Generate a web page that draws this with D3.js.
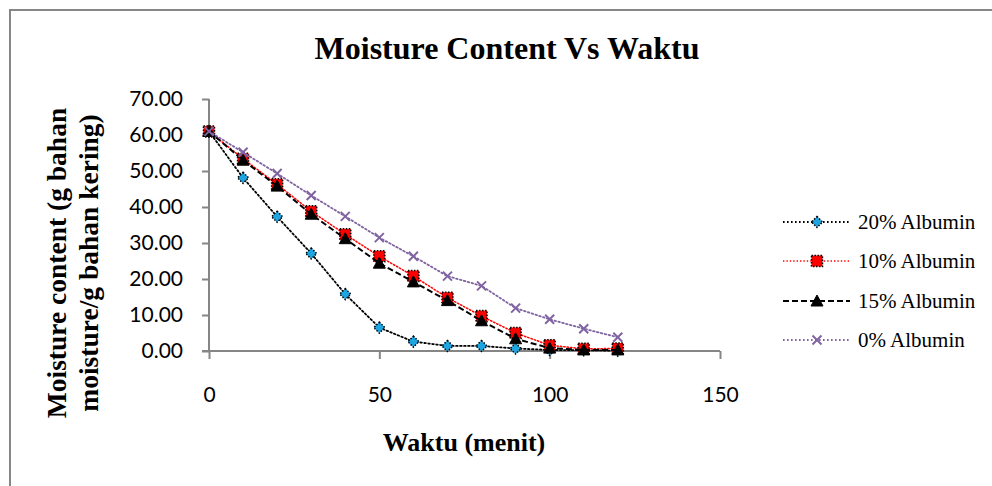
<!DOCTYPE html>
<html>
<head>
<meta charset="utf-8">
<script src="https://cdn.jsdelivr.net/npm/d3@7"></script>
<style>
  body { margin: 0; background: #fff; }
  svg { display: block; }
</style>
</head>
<body>
<div id="chart"></div>
<script>
"use strict";

// data
var waktu = [0, 10, 20, 30, 40, 50, 60, 70, 80, 90, 100, 110, 120];
var albumin20 = [61.0, 48.1, 37.3, 27.1, 15.8, 6.5, 2.6, 1.4, 1.4, 0.7, 0.3, 0.2, 0.1];
var albumin10 = [61.0, 53.4, 46.3, 38.8, 32.4, 26.3, 20.8, 14.8, 9.7, 5.0, 1.6, 0.6, 0.7];
var albumin15 = [61.0, 53.0, 45.8, 38.0, 31.2, 24.4, 19.2, 14.0, 8.4, 3.4, 0.8, 0.3, 0.3];
var albumin0 = [61.0, 55.2, 49.3, 43.2, 37.4, 31.5, 26.3, 20.8, 18.1, 11.9, 8.8, 6.2, 3.8];
var seriesNames = ["20% Albumin", "10% Albumin", "15% Albumin", "0% Albumin"];
var yTicks = [0, 10, 20, 30, 40, 50, 60, 70];
var xTicks = [0, 50, 100, 150];

var W = 992, H = 486;
var plot = { left: 209, right: 720, top: 99, bottom: 351 };
var axisColor = "#868686";

var x = d3.scaleLinear().domain([0, 150]).range([plot.left, plot.right]);
var y = d3.scaleLinear().domain([0, 70]).range([plot.bottom, plot.top]);

var series = [
  { name: seriesNames[0], values: albumin20, stroke: "#000", dash: "1.6,2.4", width: 1.8, marker: "diamond", fill: "#1fa6e0" },
  { name: seriesNames[1], values: albumin10, stroke: "#ff0000", dash: "1.4,2", width: 1.5, marker: "square", fill: "#ff0000" },
  { name: seriesNames[2], values: albumin15, stroke: "#000", dash: "6,3", width: 2, marker: "triangle", fill: "#000" },
  { name: seriesNames[3], values: albumin0, stroke: "#8064a2", dash: "1.6,2.4", width: 1.8, marker: "cross", fill: "none" }
];

var svg = d3.select("#chart").append("svg")
  .attr("width", W)
  .attr("height", H);

svg.append("rect").attr("width", W).attr("height", H).attr("fill", "#fff");

// outer chart border (only top & left visible in the crop)
svg.append("path")
  .attr("d", "M10," + H + "V10H" + W)
  .attr("fill", "none")
  .attr("stroke", axisColor)
  .attr("stroke-width", 2);

// title
svg.append("text")
  .attr("x", 507).attr("y", 59)
  .attr("text-anchor", "middle")
  .style("font-family", "'Liberation Serif', 'Times New Roman', serif")
  .style("font-weight", "bold")
  .style("font-size", "32px")
  .text("Moisture Content Vs Waktu");

// y axis
var yAxis = d3.axisLeft(y).tickValues(yTicks).tickSize(7).tickPadding(19)
  .tickFormat(d3.format(".2f"));
var gy = svg.append("g").attr("transform", "translate(" + plot.left + ",0)").call(yAxis);
gy.select(".domain").attr("d", "M0," + plot.top + "V" + plot.bottom);

// x axis
var xAxis = d3.axisBottom(x).tickValues(xTicks).tickSize(8).tickPadding(28)
  .tickFormat(d3.format("d"));
var gx = svg.append("g").attr("transform", "translate(0," + plot.bottom + ")").call(xAxis);
gx.select(".domain").attr("d", "M" + (plot.left - 7) + ",0H" + plot.right);

svg.selectAll(".domain, .tick line")
  .attr("stroke", axisColor)
  .attr("stroke-width", 2);
svg.selectAll(".tick text")
  .attr("fill", "#000")
  .style("font-family", "Lato, 'Open Sans', sans-serif")
  .style("font-size", "21px");
gy.selectAll(".tick text").attr("x", -26);

// axis titles
svg.append("text")
  .attr("x", 464).attr("y", 451)
  .attr("text-anchor", "middle")
  .style("font-family", "'Liberation Serif', 'Times New Roman', serif")
  .style("font-weight", "bold")
  .style("font-size", "26px")
  .text("Waktu (menit)");

var yTitle = svg.append("text")
  .attr("transform", "translate(0,263) rotate(-90)")
  .attr("text-anchor", "middle")
  .style("font-family", "'Liberation Serif', 'Times New Roman', serif")
  .style("font-weight", "bold")
  .style("font-size", "27.5px");
yTitle.append("tspan").attr("x", 0).attr("y", 66).text("Moisture content (g bahan");
yTitle.append("tspan").attr("x", 0).attr("y", 98).text("moisture/g bahan kering)");

// marker drawing
function drawMarker(g, s) {
  if (s.marker === "diamond") {
    g.append("path").attr("d", "M0,-5.5L5.5,0L0,5.5L-5.5,0Z")
      .attr("fill", s.fill).attr("stroke", "#000").attr("stroke-width", 1.5)
      .attr("stroke-dasharray", "1.5,1.5");
  } else if (s.marker === "square") {
    g.append("rect").attr("x", -5.5).attr("y", -5.5).attr("width", 11).attr("height", 11)
      .attr("fill", s.fill).attr("stroke", "#000").attr("stroke-width", 1.5)
      .attr("stroke-dasharray", "1.5,1.5");
  } else if (s.marker === "triangle") {
    g.append("path").attr("d", "M0,-6L6,5L-6,5Z")
      .attr("fill", s.fill).attr("stroke", "#000").attr("stroke-width", 1);
  } else {
    g.append("path").attr("d", "M-4.5,-4.5L4.5,4.5M4.5,-4.5L-4.5,4.5")
      .attr("fill", "none").attr("stroke", s.stroke).attr("stroke-width", 2);
  }
}

var line = d3.line()
  .x(function(d) { return x(d[0]); })
  .y(function(d) { return y(d[1]); });

series.forEach(function(s) {
  var pts = waktu.map(function(t, i) { return [t, s.values[i]]; });
  svg.append("path")
    .datum(pts)
    .attr("d", line)
    .attr("fill", "none")
    .attr("stroke", s.stroke)
    .attr("stroke-width", s.width)
    .attr("stroke-dasharray", s.dash)
    .attr("stroke-linecap", s.dash === "6,3" ? "butt" : "round");
  pts.forEach(function(p) {
    var g = svg.append("g").attr("transform", "translate(" + x(p[0]) + "," + y(p[1]) + ")");
    drawMarker(g, s);
  });
});

// legend
var legendY = [222, 261, 301, 340];
series.forEach(function(s, i) {
  var lg = svg.append("g").attr("transform", "translate(0," + legendY[i] + ")");
  lg.append("line")
    .attr("x1", 783).attr("x2", 850)
    .attr("stroke", s.stroke)
    .attr("stroke-width", s.width)
    .attr("stroke-dasharray", s.dash);
  drawMarker(lg.append("g").attr("transform", "translate(817,0)"), s);
  lg.append("text")
    .attr("x", 858).attr("y", 7)
    .style("font-family", "'Liberation Serif', 'Times New Roman', serif")
    .style("font-size", "21px")
    .text(s.name);
});
</script>
</body>
</html>
